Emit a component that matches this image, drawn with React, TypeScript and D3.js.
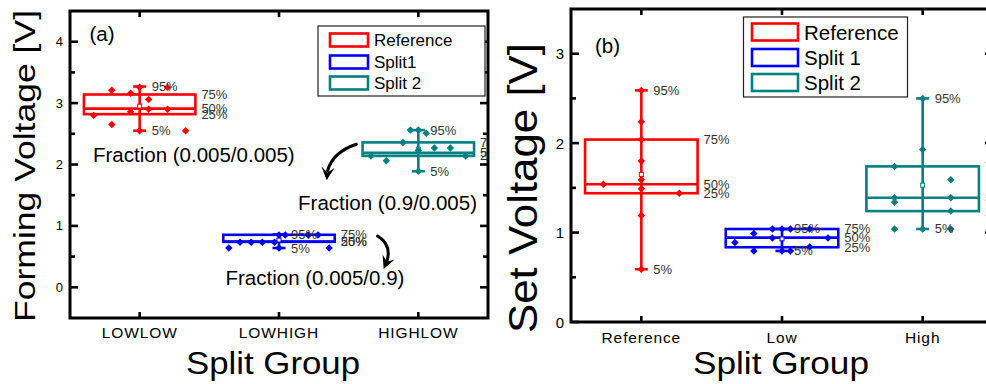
import React from "react";
import * as d3 from "d3";

// ---------- Panel (a): forming voltage ----------
const formingGroups = ["LOWLOW", "LOWHIGH", "HIGHLOW"];
const formingSeries = ["Reference", "Split1", "Split 2"];
const formingP5 = [2.55, 0.64, 1.89];
const formingQ1 = [2.82, 0.74, 2.14];
const formingMedian = [2.91, 0.745, 2.19];
const formingQ3 = [3.14, 0.855, 2.36];
const formingP95 = [3.27, 0.86, 2.56];
const formingMean = [2.95, 0.77, 2.25];
const formingValues = [
  [3.21, 3.16, 3.26, 3.06, 3.26, 2.8, 2.86, 2.9, 2.9, 2.65, 2.55, 2.55],
  [0.85, 0.85, 0.85, 0.85, 0.735, 0.735, 0.735, 0.735, 0.64, 0.64, 0.64],
  [2.56, 2.56, 2.51, 2.36, 2.27, 2.27, 2.23, 2.14, 2.06, 2.14, 1.89],
];
// horizontal spread of the overlaid points, in category units
const formingJitter = [
  [-0.2, -0.065, 0, 0.065, 0.2, -0.33, -0.065, 0.065, 0.2, -0.2, 0, 0.33],
  [0, 0.045, 0.21, 0.28, -0.28, -0.2, -0.12, -0.032, -0.36, 0, 0.36],
  [-0.057, 0, 0.057, -0.11, 0.115, 0.23, 0, -0.34, -0.23, 0.34, 0],
];
const formingTicks = [0, 1, 2, 3, 4];
const formingMinorTicks = [0.5, 1.5, 2.5, 3.5];

// ---------- Panel (b): set voltage ----------
const setGroups = ["Reference", "Low", "High"];
const setSeries = ["Reference", "Split 1", "Split 2"];
const setP5 = [0.59, 0.795, 1.04];
const setQ1 = [1.44, 0.836, 1.24];
const setMedian = [1.54, 0.943, 1.39];
const setQ3 = [2.04, 1.04, 1.74];
const setP95 = [2.59, 1.04, 2.5];
const setMean = [1.65, 0.93, 1.53];
const setValues = [
  [2.59, 2.24, 2.04, 1.8, 1.59, 1.54, 1.49, 1.44, 1.19, 0.59],
  [0.99, 0.89, 0.795, 1.04, 1.04, 1.04, 1.04, 0.94, 0.94, 0.795, 0.795, 0.84],
  [2.5, 1.93, 1.74, 1.59, 1.39, 1.34, 1.39, 1.24, 1.04, 1.04, 1.04],
];
const setJitter = [
  [0, 0, 0, 0, 0, -0.27, 0, 0.27, 0, 0],
  [-0.2, -0.335, -0.2, -0.068, 0, 0.06, 0.197, -0.068, 0.327, 0, 0.06, 0.197],
  [0, 0, -0.2, 0.2, -0.2, -0.2, 0.2, 0.2, -0.2, 0, 0.2],
];
const setTicks = [0, 1, 2, 3];
const setMinorTicks = [0.5, 1.5, 2.5];

const percentLabels = { p5: "5%", q1: "25%", med: "50%", q3: "75%", p95: "95%" };

const COLORS = ["#ff0000", "#0000ff", "#008080"];
const FONT = "'Liberation Sans', Arial, Helvetica, sans-serif";

type PanelProps = {
  id: string;
  x0: number;
  x1: number;
  y0: number;
  y1: number;
  yDomain: [number, number];
  groups: string[];
  p5: number[];
  q1: number[];
  med: number[];
  q3: number[];
  p95: number[];
  mean: number[];
  values: number[][];
  jitter: number[][];
  ticks: number[];
  minorTicks: number[];
  tickFont: number;
  catFont: number;
  catBaseline: number;
  yTitle: string;
  yTitleX: number;
  yTitleY: number;
  yTitleFont: number;
  yTitleLen: number;
  xTitleX: number;
  xTitleFont: number;
  xTitleLen: number;
  children?: (x: d3.ScaleLinear<number, number>, y: d3.ScaleLinear<number, number>) => React.ReactNode;
};

function BoxPanel(p: PanelProps) {
  const x = d3.scaleLinear().domain([0.5, 3.5]).range([p.x0, p.x1]);
  const y = d3.scaleLinear().domain(p.yDomain).range([p.y1, p.y0]);
  const half = x(1.4) - x(1); // box half width = 0.4 category
  const cap = 6.5;
  const diamond = d3.symbol().type(d3.symbolSquare).size(28)();
  const lw = 2.6;
  const majorLen = 8;
  const minorLen = 5;

  return (
    <g>
      <defs>
        <clipPath id={`clip-${p.id}`}>
          <rect x={p.x0} y={p.y0} width={p.x1 - p.x0} height={p.y1 - p.y0} />
        </clipPath>
      </defs>
      <g clipPath={`url(#clip-${p.id})`}>
        {p.groups.map((g, i) => {
          const cx = x(i + 1);
          const c = COLORS[i];
          return (
            <g key={g}>
              <line x1={cx} x2={cx} y1={y(p.p5[i])} y2={y(p.p95[i])} stroke={c} strokeWidth={lw} />
              <line x1={cx - cap} x2={cx + cap} y1={y(p.p5[i])} y2={y(p.p5[i])} stroke={c} strokeWidth={lw} />
              <line x1={cx - cap} x2={cx + cap} y1={y(p.p95[i])} y2={y(p.p95[i])} stroke={c} strokeWidth={lw} />
              <rect
                x={cx - half}
                y={y(p.q3[i])}
                width={half * 2}
                height={y(p.q1[i]) - y(p.q3[i])}
                fill="none"
                stroke={c}
                strokeWidth={lw}
              />
              <line x1={cx - half} x2={cx + half} y1={y(p.med[i])} y2={y(p.med[i])} stroke={c} strokeWidth={lw} />
              <rect
                x={cx - 2}
                y={y(p.mean[i]) - 2}
                width={4}
                height={4}
                fill="#fff"
                stroke={c}
                strokeWidth={1}
              />
              {p.values[i].map((v, j) => (
                <path
                  key={j}
                  d={diamond}
                  fill={c}
                  transform={`translate(${x(i + 1 + p.jitter[i][j])},${y(v)}) rotate(45)`}
                />
              ))}
              <g fontFamily={FONT} fontSize={13} fill="#333" dominantBaseline="central">
                <text x={cx + 12} y={y(p.p95[i])}>{percentLabels.p95}</text>
                <text x={cx + 12} y={y(p.p5[i])}>{percentLabels.p5}</text>
                <text x={cx + half + 6} y={y(p.q3[i])}>{percentLabels.q3}</text>
                <text x={cx + half + 6} y={y(p.med[i])}>{percentLabels.med}</text>
                <text x={cx + half + 6} y={y(p.q1[i])}>{percentLabels.q1}</text>
              </g>
            </g>
          );
        })}
        {p.children ? p.children(x, y) : null}
      </g>

      {/* frame and ticks */}
      <rect
        x={p.x0}
        y={p.y0}
        width={p.x1 - p.x0}
        height={p.y1 - p.y0}
        fill="none"
        stroke="#000"
        strokeWidth={3}
      />
      <g stroke="#000" strokeWidth={2.6}>
        {p.ticks.map((t) => (
          <g key={`t${t}`}>
            <line x1={p.x0} x2={p.x0 + majorLen} y1={y(t)} y2={y(t)} />
            <line x1={p.x1} x2={p.x1 - majorLen} y1={y(t)} y2={y(t)} />
          </g>
        ))}
        {p.minorTicks.map((t) => (
          <g key={`m${t}`}>
            <line x1={p.x0} x2={p.x0 + minorLen} y1={y(t)} y2={y(t)} />
            <line x1={p.x1} x2={p.x1 - minorLen} y1={y(t)} y2={y(t)} />
          </g>
        ))}
        {p.groups.map((g, i) => (
          <g key={`c${g}`}>
            <line x1={x(i + 1)} x2={x(i + 1)} y1={p.y1} y2={p.y1 - 6} />
            <line x1={x(i + 1)} x2={x(i + 1)} y1={p.y0} y2={p.y0 + 6} />
          </g>
        ))}
      </g>

      {/* tick labels */}
      <g fontFamily={FONT} fontSize={p.tickFont} fill="#000">
        {p.ticks.map((t) => (
          <text key={t} x={p.x0 - 7} y={y(t)} textAnchor="end" dominantBaseline="central">
            {t}
          </text>
        ))}
      </g>
      <g fontFamily={FONT} fontSize={p.catFont} fill="#000" letterSpacing={0.9}>
        {p.groups.map((g, i) => (
          <text key={g} x={x(i + 1)} y={p.catBaseline} textAnchor="middle">
            {g}
          </text>
        ))}
      </g>

      {/* axis titles */}
      <text
        fontFamily={FONT}
        fontSize={p.yTitleFont}
        textAnchor="middle"
        transform={`translate(${p.yTitleX},${p.yTitleY}) rotate(-90)`}
        textLength={p.yTitleLen}
        lengthAdjust="spacingAndGlyphs"
      >
        {p.yTitle}
      </text>
      <text
        fontFamily={FONT}
        fontSize={p.xTitleFont}
        textAnchor="middle"
        x={p.xTitleX}
        y={374}
        textLength={p.xTitleLen}
        lengthAdjust="spacingAndGlyphs"
      >
        Split Group
      </text>
    </g>
  );
}

function Legend(props: {
  names: string[];
  x: number;
  y: number;
  w: number;
  h: number;
  swX: number;
  swW: number;
  swH: number;
  rows: number[];
  font: number;
}) {
  return (
    <g>
      <rect x={props.x} y={props.y} width={props.w} height={props.h} fill="#fff" stroke="#222" strokeWidth={1.2} />
      {props.names.map((n, i) => (
        <g key={n}>
          <rect
            x={props.swX}
            y={props.rows[i] - props.swH / 2}
            width={props.swW}
            height={props.swH}
            fill="none"
            stroke={COLORS[i]}
            strokeWidth={2.6}
          />
          <text
            x={props.swX + props.swW + 6}
            y={props.rows[i]}
            dominantBaseline="central"
            fontFamily={FONT}
            fontSize={props.font}
            fill="#000"
          >
            {n}
          </text>
        </g>
      ))}
    </g>
  );
}

function Arrow(props: { pts: [number, number][] }) {
  const [s, c, e, tip] = props.pts;
  const path = d3.path();
  path.moveTo(s[0], s[1]);
  path.quadraticCurveTo(c[0], c[1], e[0], e[1]);
  // arrowhead aligned with the last segment
  const ang = Math.atan2(tip[1] - e[1], tip[0] - e[0]);
  const len = 13;
  const wid = 6.5;
  const bx = tip[0] - len * Math.cos(ang);
  const by = tip[1] - len * Math.sin(ang);
  const nx = -Math.sin(ang);
  const ny = Math.cos(ang);
  const mx = tip[0] - len * 0.6 * Math.cos(ang);
  const my = tip[1] - len * 0.6 * Math.sin(ang);
  const head = `M${tip[0]},${tip[1]} L${bx + nx * wid},${by + ny * wid} L${mx},${my} L${bx - nx * wid},${by - ny * wid} Z`;
  return (
    <g>
      <path d={path.toString()} fill="none" stroke="#000" strokeWidth={3} strokeLinecap="round" />
      <path d={head} fill="#000" />
    </g>
  );
}

export default function App() {
  return (
    <svg
      width={986}
      height={384}
      style={{ position: "absolute", left: 0, top: 0, background: "#fff" }}
      xmlns="http://www.w3.org/2000/svg"
    >
      <rect width={986} height={384} fill="#fff" />
      <BoxPanel
        id="a"
        x0={70}
        x1={488}
        y0={11}
        y1={318}
        yDomain={[-0.5, 4.5]}
        groups={formingGroups}
        p5={formingP5}
        q1={formingQ1}
        med={formingMedian}
        q3={formingQ3}
        p95={formingP95}
        mean={formingMean}
        values={formingValues}
        jitter={formingJitter}
        ticks={formingTicks}
        minorTicks={formingMinorTicks}
        tickFont={13}
        catFont={15.5}
        catBaseline={338}
        yTitle="Forming Voltage [V]"
        yTitleX={35}
        yTitleY={166}
        yTitleFont={30}
        yTitleLen={312}
        xTitleX={273}
        xTitleFont={31}
        xTitleLen={174}
      >
        {(x, y) => (
          <g>
            <g fontFamily={FONT} fontSize={20.5} fill="#000">
              <text x={x(0.64)} y={y(4.01)}>(a)</text>
              <text x={x(0.665)} y={y(2.04)}>Fraction (0.005/0.005)</text>
              <text x={x(2.137)} y={y(1.259)}>Fraction (0.9/0.005)</text>
              <text x={x(1.616)} y={y(0.0375)}>Fraction (0.005/0.9)</text>
            </g>
            <Arrow
              pts={[
                [x(2.555), y(2.33)],
                [x(2.385), y(2.2)],
                [x(2.349), y(1.9)],
                [x(2.342), y(1.745)],
              ]}
            />
            <Arrow
              pts={[
                [x(2.708), y(0.835)],
                [x(2.81), y(0.69)],
                [x(2.775), y(0.43)],
                [x(2.751), y(0.3)],
              ]}
            />
          </g>
        )}
      </BoxPanel>
      <Legend
        names={formingSeries}
        x={318}
        y={26}
        w={167}
        h={70}
        swX={330}
        swW={38}
        swH={13}
        rows={[40, 62, 83]}
        font={17}
      />

      <BoxPanel
        id="b"
        x0={571}
        x1={993}
        y0={9}
        y1={322}
        yDomain={[0, 3.5]}
        groups={setGroups}
        p5={setP5}
        q1={setQ1}
        med={setMedian}
        q3={setQ3}
        p95={setP95}
        mean={setMean}
        values={setValues}
        jitter={setJitter}
        ticks={setTicks}
        minorTicks={setMinorTicks}
        tickFont={15}
        catFont={15.5}
        catBaseline={343}
        yTitle="Set Voltage [V]"
        yTitleX={537}
        yTitleY={188}
        yTitleFont={40}
        yTitleLen={290}
        xTitleX={781}
        xTitleFont={32}
        xTitleLen={176}
      >
        {(x, y) => (
          <text fontFamily={FONT} fontSize={20.5} x={x(0.671)} y={y(3.013)}>
            (b)
          </text>
        )}
      </BoxPanel>
      <Legend
        names={setSeries}
        x={743.5}
        y={17}
        w={164}
        h={80}
        swX={752}
        swW={46}
        swH={17}
        rows={[32, 57.5, 82.5]}
        font={20.5}
      />
    </svg>
  );
}
